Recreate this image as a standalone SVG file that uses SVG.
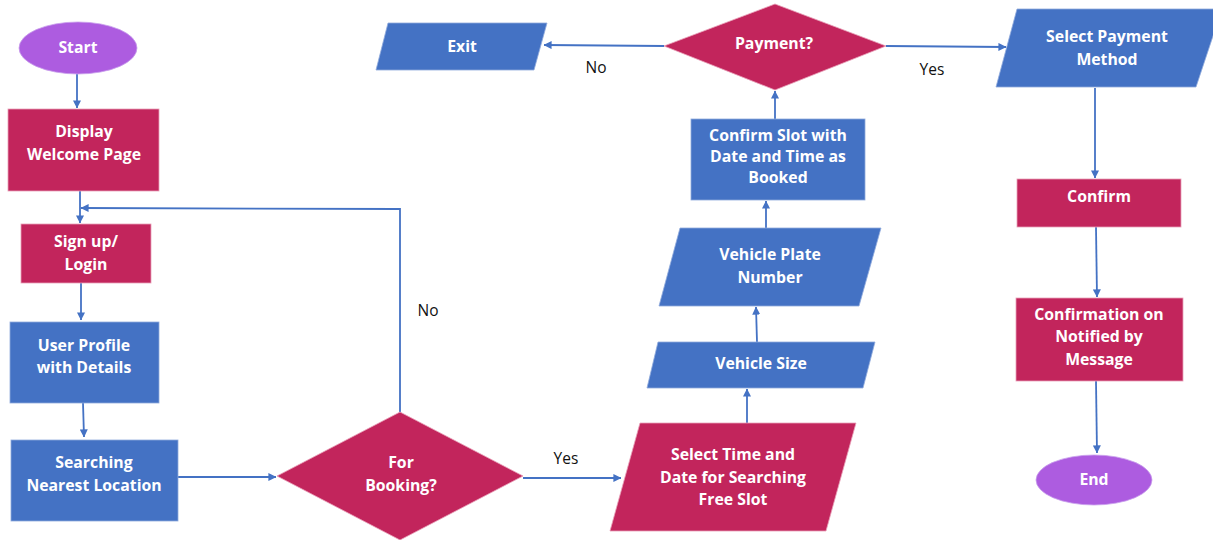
<svg xmlns="http://www.w3.org/2000/svg" width="1213" height="540" viewBox="0 0 1213 540">
<defs>
<style>
.red{fill:#C2255C;stroke:#E8A0B8;stroke-width:0.8}
.blue{fill:#4472C4;stroke:#8FAADC;stroke-width:0.8}
.purple{fill:#AD5CE0;stroke:#C9A0EC;stroke-width:0.8}
.t{font-family:"Open Sans","Liberation Sans",sans-serif;font-weight:700;font-size:15.8px;fill:#FFFFFF;text-anchor:middle}
.lbl{font-family:"Open Sans","Liberation Sans",sans-serif;font-size:15.5px;fill:#111111;text-anchor:middle}
.c{fill:none;stroke:#4472C4;stroke-width:1.8}
</style>
<marker id="ah" viewBox="0 0 10 10" refX="9.5" refY="5" markerWidth="8" markerHeight="8" markerUnits="userSpaceOnUse" orient="auto">
<path d="M0,0 L10,5 L0,10 z" fill="#4472C4"/>
</marker>
</defs>
<rect width="1213" height="540" fill="#FFFFFF"/>

<g id="connectors">
<path class="c" d="M77,74 L77,108" marker-end="url(#ah)"/>
<path class="c" d="M80,191 L80,223" marker-end="url(#ah)"/>
<path class="c" d="M400,412 L400,209 L81,208" marker-end="url(#ah)"/>
<path class="c" d="M81,283 L81,320" marker-end="url(#ah)"/>
<path class="c" d="M83,403 L84,437" marker-end="url(#ah)"/>
<path class="c" d="M178,477 L276,477" marker-end="url(#ah)"/>
<path class="c" d="M523,478 L621,478" marker-end="url(#ah)"/>
<path class="c" d="M747,423 L747,389" marker-end="url(#ah)"/>
<path class="c" d="M757,342 L756,307" marker-end="url(#ah)"/>
<path class="c" d="M766,228 L766,201" marker-end="url(#ah)"/>
<path class="c" d="M775,119 L775,91" marker-end="url(#ah)"/>
<path class="c" d="M664,46 L544,45" marker-end="url(#ah)"/>
<path class="c" d="M886,46 L1006,47" marker-end="url(#ah)"/>
<path class="c" d="M1095,88 L1095,178" marker-end="url(#ah)"/>
<path class="c" d="M1096,227 L1097,297" marker-end="url(#ah)"/>
<path class="c" d="M1096,381 L1097,453" marker-end="url(#ah)"/>
<text class="lbl" x="428" y="316">No</text>
<text class="lbl" x="566" y="464">Yes</text>
<text class="lbl" x="596" y="73">No</text>
<text class="lbl" x="932" y="75">Yes</text>
</g>

<g id="start">
<ellipse class="purple" cx="78" cy="48" rx="59" ry="26"/>
<text class="t" x="78" y="53">Start</text>
</g>
<g id="display">
<rect class="red" x="8" y="109" width="151" height="82"/>
<text class="t" x="84" y="137">Display</text>
<text class="t" x="84" y="160">Welcome Page</text>
</g>
<g id="signup">
<rect class="red" x="21" y="224" width="130" height="59"/>
<text class="t" x="86" y="247">Sign up/</text>
<text class="t" x="86" y="270">Login</text>
</g>
<g id="profile">
<rect class="blue" x="10" y="322" width="149" height="81"/>
<text class="t" x="84" y="351">User Profile</text>
<text class="t" x="84" y="373">with Details</text>
</g>
<g id="searching">
<rect class="blue" x="11" y="440" width="167" height="81"/>
<text class="t" x="94" y="468">Searching</text>
<text class="t" x="94" y="491">Nearest Location</text>
</g>
<g id="booking">
<polygon class="red" points="277,476 400,412 523,476 400,540"/>
<text class="t" x="401" y="468">For</text>
<text class="t" x="401" y="491">Booking?</text>
</g>
<g id="selecttime">
<polygon class="red" points="640,423 856,423 826,531 610,531"/>
<text class="t" x="733" y="460">Select Time and</text>
<text class="t" x="733" y="483">Date for Searching</text>
<text class="t" x="733" y="505">Free Slot</text>
</g>
<g id="vehiclesize">
<polygon class="blue" points="658,342 875,342 863,388 647,388"/>
<text class="t" x="761" y="369">Vehicle Size</text>
</g>
<g id="plate">
<polygon class="blue" points="680,228 881,228 859,306 659,306"/>
<text class="t" x="770" y="260">Vehicle Plate</text>
<text class="t" x="770" y="283">Number</text>
</g>
<g id="confirmslot">
<rect class="blue" x="691" y="119" width="174" height="81"/>
<text class="t" x="778" y="141">Confirm Slot with</text>
<text class="t" x="778" y="162">Date and Time as</text>
<text class="t" x="778" y="183">Booked</text>
</g>
<g id="payment">
<polygon class="red" points="664,46 775,4 886,46 775,90"/>
<text class="t" x="774" y="49">Payment?</text>
</g>
<g id="exit">
<polygon class="blue" points="388,23 547,23 534,70 376,70"/>
<text class="t" x="462" y="52">Exit</text>
</g>
<g id="paymethod">
<polygon class="blue" points="1017,9 1222,9 1196,87 996,87"/>
<text class="t" x="1107" y="42">Select Payment</text>
<text class="t" x="1107" y="65">Method</text>
</g>
<g id="confirm">
<rect class="red" x="1017" y="179" width="164" height="48"/>
<text class="t" x="1099" y="202">Confirm</text>
</g>
<g id="confirmation">
<rect class="red" x="1016" y="298" width="167" height="83"/>
<text class="t" x="1099" y="320">Confirmation on</text>
<text class="t" x="1099" y="342">Notified by</text>
<text class="t" x="1099" y="365">Message</text>
</g>
<g id="end">
<ellipse class="purple" cx="1094" cy="480" rx="58" ry="25"/>
<text class="t" x="1094" y="485">End</text>
</g>
</svg>
